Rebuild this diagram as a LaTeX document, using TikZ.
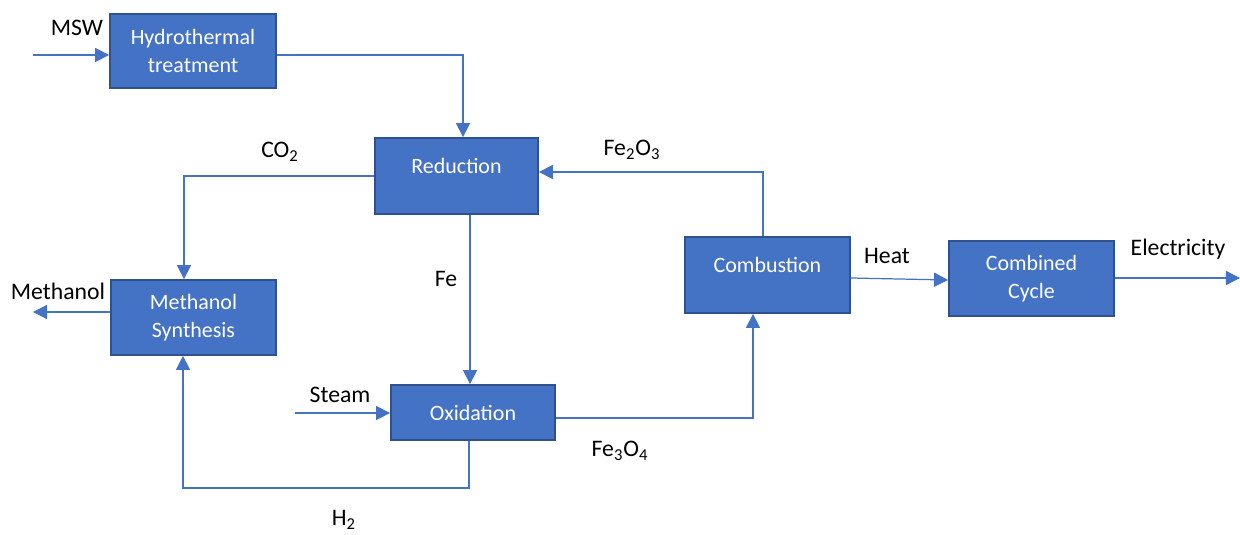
\documentclass[tikz,border=0pt]{standalone}
\usepackage{fontspec}
\setmainfont{Carlito}
\usetikzlibrary{arrows.meta, positioning}

\definecolor{boxblue}{HTML}{4472C4}
\definecolor{boxedge}{HTML}{2F528F}

\tikzset{
  unit/.style={draw=boxedge, line width=1pt, fill=boxblue, text=white,
    font=\fontsize{12.5}{16}\selectfont, align=center, inner sep=0pt},
  flow/.style={draw=boxblue, line width=0.7pt, -{Triangle[length=8pt,width=8pt]}},
  line/.style={draw=boxblue, line width=0.7pt},
  tag/.style={font=\fontsize{13.5}{16}\selectfont, inner sep=0pt}
}

\begin{document}
\begin{tikzpicture}[x=0.02cm, y=-0.02cm]
        \useasboundingbox (0,0) rectangle (1240,534);

        % Process units
        \node[unit, minimum width=166*0.02cm, minimum height=74*0.02cm] (hyd) at (193,51) {Hydrothermal\\treatment};
        \node[unit, minimum width=163*0.02cm, minimum height=76*0.02cm, text depth=12pt] (red) at (456.5,176) {Reduction};
        \node[unit, minimum width=165*0.02cm, minimum height=75*0.02cm] (meth) at (193.5,317.5) {Methanol\\Synthesis};
        \node[unit, minimum width=164*0.02cm, minimum height=55*0.02cm] (oxi) at (473,412.5) {Oxidation};
        \node[unit, minimum width=165*0.02cm, minimum height=76*0.02cm, text depth=12pt] (comb) at (767.5,275) {Combustion};
        \node[unit, minimum width=165*0.02cm, minimum height=75*0.02cm] (cc) at (1031.5,278.5) {Combined\\Cycle};

        % Free ends
        \coordinate (mswin) at (33,55);
        \coordinate (steamin) at (295,413);
        \coordinate (methout) at (33,312);
        \coordinate (elecout) at (1240,278);

        % Streams
        \draw[flow] (mswin) -- (mswin -| hyd.west);
        \draw[flow] (hyd.east |- mswin) -| (463,0 |- red.north);
        \draw[flow] (red.west) -| (184,0 |- meth.north);
        \draw[flow] (470,0 |- red.south) -- (470,0 |- oxi.north);
        \draw[flow] (763,0 |- comb.north) |- (red.east |- 0,172);
        \draw[flow] (oxi.east |- 0,418) -| (753,0 |- comb.south);
        \draw[flow] (469,0 |- oxi.south) -- (469,488) -| (183,0 |- meth.south);
        \draw[flow] (steamin) -- (steamin -| oxi.west);
        \draw[flow] (methout -| meth.west) -- (methout);
        \draw[flow] (comb.east |- 0,278) -- (cc.west |- 0,280);
        \draw[flow] (cc.east |- elecout) -- (elecout);

        % Stream labels
        \node[tag] (msw) at (77,28) {MSW};
        \node[tag] (co2) at (280,152) {CO\textsubscript{2}};
        \node[tag] (fe) at (446,279) {Fe};
        \node[tag] (fe2o3) at (632,150) {Fe\textsubscript{2}O\textsubscript{3}};
        \node[tag] (fe3o4) at (620,451) {Fe\textsubscript{3}O\textsubscript{4}};
        \node[tag] (h2) at (344,520) {H\textsubscript{2}};
        \node[tag] (steam) at (340,395) {Steam};
        \node[tag] (methanol) at (58,291) {Methanol};
        \node[tag] (heat) at (887,256) {Heat};
        \node[tag] (elec) at (1178,249) {Electricity};
      \end{tikzpicture}
\end{document}
